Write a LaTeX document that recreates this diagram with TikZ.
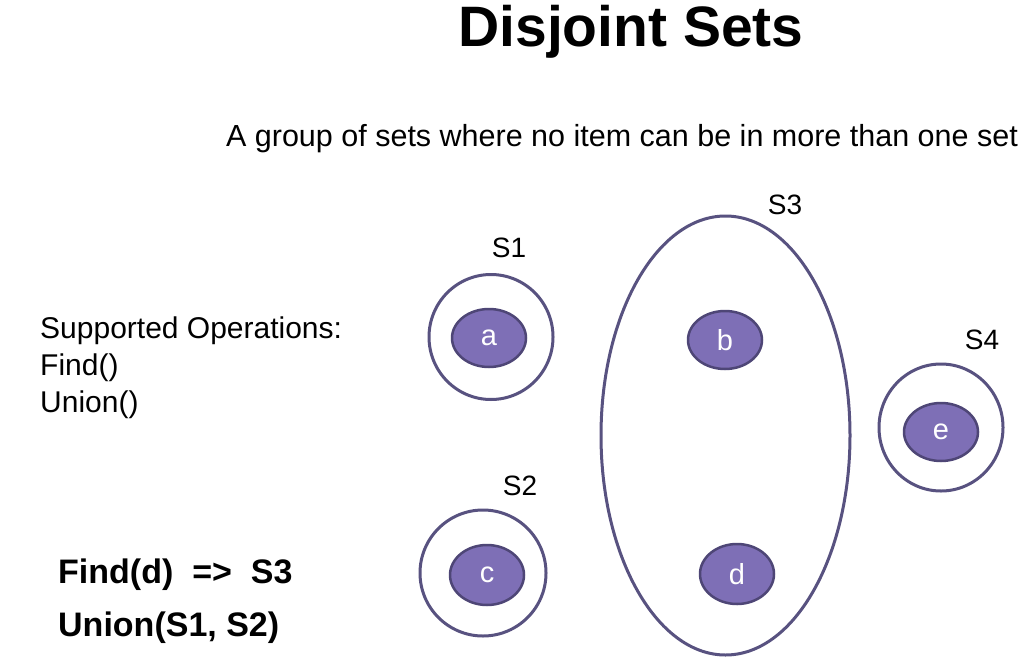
\documentclass[tikz,border=0pt]{standalone}
\usepackage{fontspec}
\setmainfont{Liberation Sans}
\usetikzlibrary{shapes.geometric}

\definecolor{setline}{RGB}{88,82,128}
\definecolor{itemfill}{RGB}{126,111,182}
\definecolor{itemline}{RGB}{78,70,118}

\tikzset{
	setring/.style={draw=setline, line width=3pt, ellipse, inner sep=0pt},
	item/.style={draw=itemline, fill=itemfill, line width=2.5pt, ellipse, inner sep=0pt, minimum width=74pt, minimum height=58pt, text=white, font=\fontsize{29}{34}\selectfont},
	setname/.style={font=\fontsize{28}{34}\selectfont},
	plain/.style={font=\fontsize{30}{37}\selectfont, anchor=base west, inner sep=0pt},
	result/.style={font=\fontsize{34}{40}\selectfont\bfseries, anchor=base west, inner sep=0pt}
}

\begin{document}
\begin{tikzpicture}[x=1pt, y=-1pt]
		\useasboundingbox[fill=white] (0,0) rectangle (1035,661);

		\node[font=\fontsize{57}{66}\selectfont\bfseries, anchor=base] (title) at (631,46) {Disjoint Sets};
		\node[font=\fontsize{30.5}{36}\selectfont, anchor=base] (subtitle) at (622,146) {A group of sets where no item can be in more than one set};

		\node[plain] (ops) at (40,338) {Supported Operations:};
		\node[plain] (opfind) at (40,375) {Find()};
		\node[plain] (opunion) at (40,412) {Union()};

		\node[result] (findres) at (58,583) {Find(d)\ \ =>\ \ S3};
		\node[result] (unionres) at (58,636) {Union(S1, S2)};

		\node[setring, minimum width=124pt, minimum height=125pt] (sone) at (491,337) {};
		\node[setname] (sonename) at (509,248) {S1};
		\node[item] (a) at (489,338) {a};

		\node[setring, minimum width=249pt, minimum height=439pt] (sthree) at (725.5,435.5) {};
		\node[setname] (sthreename) at (785,205) {S3};
		\node[item] (b) at (725,340) {b};
		\node[item, minimum height=60pt] (d) at (737,574) {d};

		\node[setring, minimum width=124pt, minimum height=127pt] (sfour) at (941,427.5) {};
		\node[setname] (sfourname) at (982,340) {S4};
		\node[item] (e) at (941,432) {e};

		\node[setring, minimum width=126pt, minimum height=126pt] (stwo) at (483,573) {};
		\node[setname] (stwoname) at (520,486) {S2};
		\node[item, minimum height=60pt] (c) at (487,575) {c};
	\end{tikzpicture}
\end{document}
